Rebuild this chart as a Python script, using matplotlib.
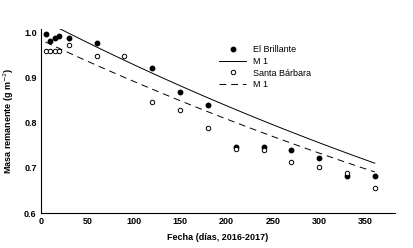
import numpy as np
from matplotlib import pyplot as plt

dias = [5, 10, 15, 20, 30, 60, 90, 120, 150, 180, 210, 240, 270, 300, 330, 360]

# El Brillante (no sample read at day 90)
dias_eb = [5, 10, 15, 20, 30, 60, 120, 150, 180, 210, 240, 270, 300, 330, 360]
masa_eb = [0.995, 0.980, 0.988, 0.991, 0.987, 0.975, 0.920, 0.868, 0.840,
           0.745, 0.745, 0.740, 0.722, 0.683, 0.683]

# Santa Barbara
masa_sb = [0.958, 0.958, 0.958, 0.958, 0.972, 0.947, 0.947, 0.845, 0.827,
           0.787, 0.742, 0.740, 0.712, 0.702, 0.688, 0.655]

# M 1 fitted parameters (single exponential a*exp(-k t))
a_eb, k_eb = 1.029, 0.00103
a_sb, k_sb = 0.983, 0.00098

plt.rcParams['font.family'] = ['Liberation Sans', 'DejaVu Sans']

fig = plt.figure(figsize=(4.13, 2.48), dpi=100)
ax = fig.add_axes([0.099, 0.141, 0.858, 0.742])

t_eb = np.linspace(10, 360, 100)
t_sb = np.linspace(5, 360, 100)

ax.plot(dias_eb, masa_eb, 'o', color='black', markersize=3.2, label='El Brillante')
ax.plot(t_eb, a_eb * np.exp(-k_eb * t_eb), '-', color='black', lw=0.7, label='M 1')
ax.plot(dias, masa_sb, 'o', mfc='white', mec='black', mew=0.7, markersize=3.2,
        label='Santa Bárbara')
ax.plot(t_sb, a_sb * np.exp(-k_sb * t_sb), color='black', lw=0.7,
        dashes=(7, 5), label='M 1')

ax.set_xlim(0, 382)
ax.set_ylim(0.6, 1.007)
ax.set_xticks([0, 50, 100, 150, 200, 250, 300, 350])
ax.set_yticks([0.6, 0.7, 0.8, 0.9, 1.0])
ax.set_yticklabels(['0.6', '0.7', '0.8', '0.9', '1.0'])
ax.tick_params(length=0, labelsize=6.5, pad=3)
for lab in ax.get_xticklabels() + ax.get_yticklabels():
    lab.set_fontweight('bold')

ax.spines['top'].set_visible(False)
ax.spines['right'].set_visible(False)
ax.spines['left'].set_linewidth(0.8)
ax.spines['bottom'].set_linewidth(0.8)

ax.set_xlabel('Fecha (días, 2016-2017)', fontsize=6.5, fontweight='bold', labelpad=5)
ax.set_ylabel(r'Masa remanente (g m$^{-2}$)', fontsize=6.5, fontweight='bold', labelpad=6)

ax.legend(loc='upper left', bbox_to_anchor=(0.49, 0.935), frameon=False,
          fontsize=6.5, handlelength=3.0, handletextpad=0.8, labelspacing=0.28,
          borderpad=0)

fig.savefig('out.png', dpi=100)
